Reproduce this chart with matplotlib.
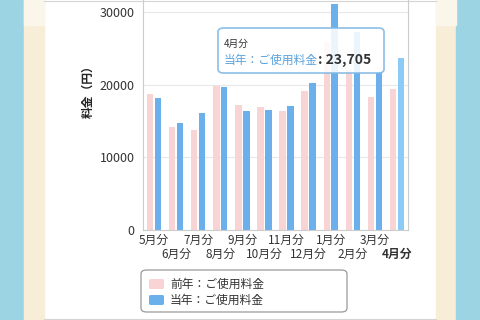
import numpy as np
import matplotlib.pyplot as plt
from matplotlib.patches import Rectangle, FancyBboxPatch

plt.rcParams['font.family'] = ['Noto Sans CJK JP', 'DejaVu Sans']

months = ["5月分", "6月分", "7月分", "8月分", "9月分", "10月分",
          "11月分", "12月分", "1月分", "2月分", "3月分", "4月分"]
prev_year = [18700, 14200, 13750, 19800, 17200, 16900,
             16350, 19100, 25900, 22000, 18300, 19400]
this_year = [18150, 14700, 16100, 19650, 16350, 16500,
             17050, 20200, 31100, 27200, 21800, 23705]
yticks = [0, 10000, 20000, 30000]

PINK = "#f9d4d4"
BLUE = "#6cb0eb"
BLUE_HI = "#8ccbf6"

W, H = 480, 320
fig = plt.figure(figsize=(4.8, 3.2), dpi=100)

def fx(px):
    return px / W

def fy(py):
    return 1 - py / H

# side strips
for x0, x1, c in [(0, 24, "#9dd4e4"), (24, 44, "#f8eed8"),
                  (436, 456, "#f8eed8"), (456, 480, "#9dd4e4")]:
    fig.patches.append(Rectangle((fx(x0), 0), fx(x1 - x0), 1,
                                 transform=fig.transFigure, color=c, zorder=0))
for x0 in (24, 436):
    fig.patches.append(Rectangle((fx(x0), fy(25)), fx(20), 25 / H,
                                 transform=fig.transFigure, color="#fbf6ea", zorder=0))
# thin top / bottom rules over the white area
for yy in (0.5, 318.5):
    fig.lines.append(plt.Line2D([fx(44), fx(436)], [fy(yy), fy(yy)],
                                transform=fig.transFigure, color="#d4d4d4",
                                linewidth=0.8))

ax = fig.add_axes([fx(143), fy(230), fx(408 - 143), 230 / H])
x = np.arange(len(months))
ax.bar(x - 0.18, prev_year, width=0.29, color=PINK, zorder=2)
colors = [BLUE] * (len(months) - 1) + [BLUE_HI]
ax.bar(x + 0.18, this_year, width=0.29, color=colors, zorder=2)

ax.set_xlim(-0.5, len(months) - 0.5)
ax.set_ylim(0, 31640)
ax.set_yticks(yticks)
ax.set_yticklabels([str(v) for v in yticks], fontsize=9, color="#333333")
ax.grid(axis="y", color="#e8e8e8", linewidth=0.8, zorder=0)
ax.tick_params(axis="both", length=0)
ax.tick_params(axis="y", pad=6)
ax.spines["top"].set_visible(False)
for side in ["left", "right", "bottom"]:
    ax.spines[side].set_color("#cccccc")
    ax.spines[side].set_linewidth(0.8)

ax.set_xticks(x)
ax.set_xticklabels(months, fontsize=8.5, color="#333333")
for i, t in enumerate(ax.xaxis.get_major_ticks()):
    t.set_pad(3 if i % 2 == 0 else 13)
ax.get_xticklabels()[-1].set_fontweight("bold")

fig.text(fx(88), fy(89), "料金（円）", rotation=90, fontsize=8.5,
         fontweight="bold", ha="center", va="center", color="#222222")

# tooltip
fig.patches.append(FancyBboxPatch((fx(218), fy(73)), fx(166), 45 / H,
                                  boxstyle="round,pad=0,rounding_size=0.012",
                                  transform=fig.transFigure, facecolor="white",
                                  edgecolor="#7db6e3", linewidth=1.2, alpha=0.88,
                                  zorder=5))
fig.text(fx(224), fy(44), "4月分", fontsize=7, color="#333333", va="center", zorder=6)
fig.text(fx(224), fy(60), "当年：ご使用料金", fontsize=8.5, color="#5aa2dc",
         va="center", zorder=6)
fig.text(fx(318), fy(60), ": 23,705", fontsize=10, fontweight="bold",
         color="#333333", va="center", zorder=6)

# legend
fig.patches.append(FancyBboxPatch((fx(141), fy(312)), fx(206), 42 / H,
                                  boxstyle="round,pad=0,rounding_size=0.012",
                                  transform=fig.transFigure, facecolor="white",
                                  edgecolor="#999999", linewidth=0.9, zorder=5))
for yy, c, lab in [(284, PINK, "前年：ご使用料金"), (300, BLUE, "当年：ご使用料金")]:
    fig.patches.append(FancyBboxPatch((fx(149), fy(yy + 5)), fx(15), 10 / H,
                                      boxstyle="round,pad=0,rounding_size=0.004",
                                      transform=fig.transFigure, facecolor=c,
                                      edgecolor="none", zorder=6))
    fig.text(fx(170), fy(yy), lab, fontsize=8.5, color="#333333",
             va="center", zorder=6)

fig.savefig("out.png", dpi=100)
